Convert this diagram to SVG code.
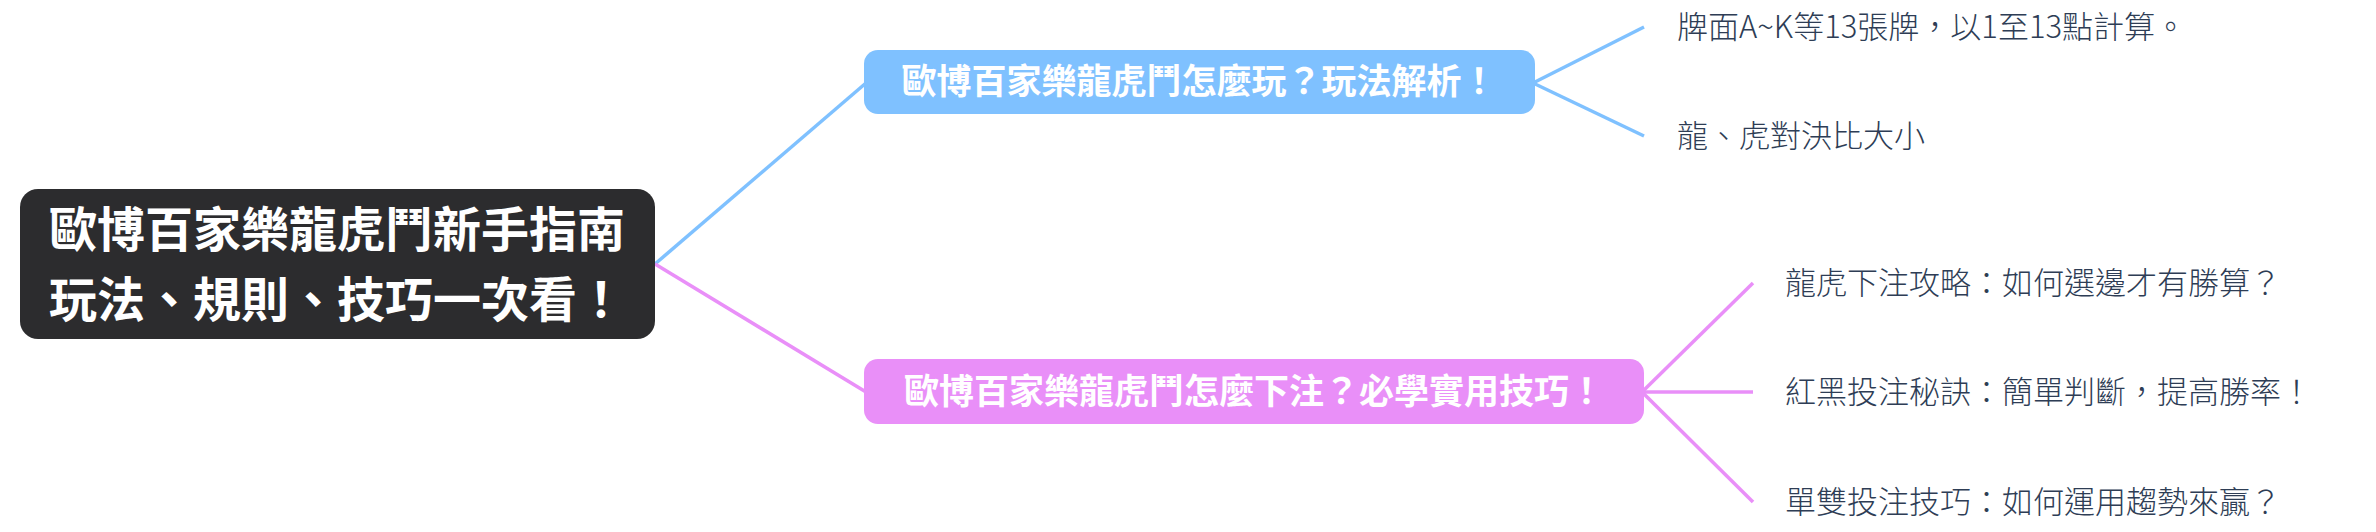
<svg xmlns="http://www.w3.org/2000/svg" width="2376" height="532" viewBox="0 0 2376 532">
<style>
text{font-family:"Noto Sans CJK TC","Noto Sans CJK SC",sans-serif}
.root{fill:#2c2c2e}
.rt{fill:#ffffff;font-size:48px;font-weight:700;text-anchor:middle}
.bt{fill:#ffffff;font-size:35px;font-weight:700;text-anchor:middle}
.lt{fill:#2e3d55;font-size:31px;font-weight:300}
.cb{stroke:#7fc1ff;stroke-width:3.5;fill:none}
.cp{stroke:#e98ff8;stroke-width:3.5;fill:none}
</style>
<rect width="2376" height="532" fill="#ffffff"/>
<g id="connectors">
<line class="cb" x1="655" y1="264" x2="866" y2="83"/>
<line class="cp" x1="655" y1="264" x2="866" y2="392"/>
<line class="cb" x1="1533" y1="83" x2="1644" y2="27"/>
<line class="cb" x1="1533" y1="83" x2="1644" y2="136"/>
<line class="cp" x1="1642" y1="392" x2="1753" y2="283"/>
<line class="cp" x1="1642" y1="392" x2="1753" y2="392"/>
<line class="cp" x1="1642" y1="392" x2="1753" y2="502"/>
</g>
<g id="root">
<rect class="root" x="20" y="189" width="635" height="150" rx="18"/>
<text class="rt" x="337" y="247">歐博百家樂龍虎鬥新手指南</text>
<text class="rt" x="337" y="317">玩法、規則、技巧一次看！</text>
</g>
<g id="branch1">
<rect x="864" y="50" width="671" height="64" rx="14" fill="#7fc1ff"/>
<text class="bt" x="1199" y="94">歐博百家樂龍虎鬥怎麼玩？玩法解析！</text>
</g>
<g id="branch2">
<rect x="864" y="359" width="780" height="65" rx="14" fill="#e98ff8"/>
<text class="bt" x="1254" y="404">歐博百家樂龍虎鬥怎麼下注？必學實用技巧！</text>
</g>
<g id="leaf1"><text class="lt" x="1677" y="38">牌面A~K等13張牌，以1至13點計算。</text></g>
<g id="leaf2"><text class="lt" x="1677" y="147">龍、虎對決比大小</text></g>
<g id="leaf3"><text class="lt" x="1785" y="294">龍虎下注攻略：如何選邊才有勝算？</text></g>
<g id="leaf4"><text class="lt" x="1785" y="403">紅黑投注秘訣：簡單判斷，提高勝率！</text></g>
<g id="leaf5"><text class="lt" x="1785" y="513">單雙投注技巧：如何運用趨勢來贏？</text></g>
</svg>
